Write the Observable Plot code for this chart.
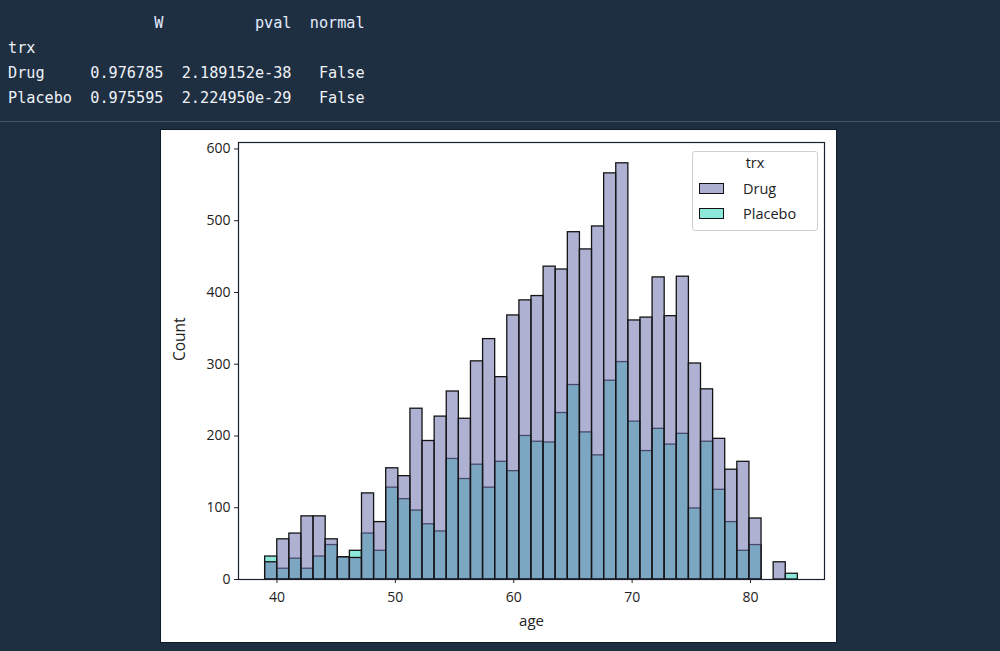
<!DOCTYPE html>
<html>
<head>
<meta charset="utf-8">
<script src="https://cdn.jsdelivr.net/npm/d3@7"></script>
<script src="https://cdn.jsdelivr.net/npm/@observablehq/plot@0.6"></script>
<style>
  html, body { margin: 0; padding: 0; background: #1f2f42; width: 1000px; height: 651px; overflow: hidden; }
  #table { position: absolute; left: 8px; top: 11px; margin: 0; font-family: "DejaVu Sans Mono", monospace; font-size: 15.2px; line-height: 25px; color: #eef2f7; white-space: pre; }
  #table .hdr { color: #e4ecff; }
  #sep { position: absolute; left: 0; top: 121px; width: 1000px; height: 1px; background: #44556a; }
  #panel { position: absolute; left: 161px; top: 130px; width: 675px; height: 512px; background: #fff; outline: 1px solid #0e1a28; }
  #legend { position: absolute; left: 531px; top: 21px; width: 124px; height: 78px; border: 1px solid #cfcfd6; border-radius: 3px; background: rgba(255,255,255,0.85); font-family: "Open Sans", sans-serif; font-size: 14.5px; color: #222; }
  #legend .title { position: absolute; left: 0; width: 100%; top: 1px; text-align: center; }
  #legend .item { position: absolute; left: 6px; height: 20px; display: flex; align-items: center; }
  #legend .sw { width: 23px; height: 9px; border: 1.4px solid #111; margin-right: 19px; }
</style>
</head>
<body>
<pre id="table"></pre>
<div id="sep"></div>
<div id="panel"></div>
<script>
// Normality test table
const tableHeader = ["", "W", "pval", "normal"];
const tableIndexName = "trx";
const tableRows = ["Drug", "Placebo"];
const tableW = ["0.976785", "0.975595"];
const tablePval = ["2.189152e-38", "2.224950e-29"];
const tableNormal = ["False", "False"];

// Histogram: common bins over age 39..84, 44 bins
const ageMin = 39, ageMax = 84, nBins = 44;
const drugCounts = [24, 56, 64, 88, 88, 56, 31, 30, 120, 80, 155, 144, 238, 193, 227, 262, 224, 304, 335, 282, 368, 389, 395, 436, 432, 484, 460, 492, 566, 580, 361, 365, 421, 367, 422, 301, 265, 196, 153, 164, 85, 0, 24, 0];
const placeboCounts = [32, 15, 29, 15, 32, 48, 31, 40, 64, 40, 128, 112, 96, 77, 67, 168, 140, 160, 128, 164, 151, 200, 192, 191, 232, 271, 205, 173, 277, 303, 220, 179, 210, 188, 203, 99, 192, 125, 80, 40, 48, 0, 0, 8];
const groups = ["Drug", "Placebo"];
const colors = { Drug: "rgba(112,116,176,0.56)", Placebo: "#8ce9da" };
const legendColors = { Drug: "#aeb0d2", Placebo: "#8ce9da" };
const xTicks = [40, 50, 60, 70, 80];
const yTicks = [0, 100, 200, 300, 400, 500, 600];

// Table text
const colW = [7, 10, 14, 8];
function pad(s, w, left) { s = String(s); while (s.length < w) s = left ? s + " " : " " + s; return s; }
const lines = [];
lines.push('<span class="hdr">' + pad(tableHeader[0], colW[0], true) + pad(tableHeader[1], colW[1]) + pad(tableHeader[2], colW[2]) + pad(tableHeader[3], colW[3]) + '</span>');
lines.push(tableIndexName);
tableRows.forEach((r, i) => {
  lines.push(pad(r, colW[0], true) + pad(tableW[i], colW[1]) + pad(tablePval[i], colW[2]) + pad(tableNormal[i], colW[3]));
});
document.getElementById("table").innerHTML = lines.join("\n");

// Build bin table
const bw = (ageMax - ageMin) / nBins;
const data = [];
for (let i = 0; i < nBins; i++) {
  const x1 = ageMin + i * bw, x2 = ageMin + (i + 1) * bw;
  if (placeboCounts[i] > 0) data.push({ trx: "Placebo", x1, x2, count: placeboCounts[i] });
}
for (let i = 0; i < nBins; i++) {
  const x1 = ageMin + i * bw, x2 = ageMin + (i + 1) * bw;
  if (drugCounts[i] > 0) data.push({ trx: "Drug", x1, x2, count: drugCounts[i] });
}
const span = ageMax - ageMin;

const chart = Plot.plot({
  width: 675,
  height: 512,
  marginLeft: 77,
  marginRight: 12,
  marginTop: 12,
  marginBottom: 63,
  style: { fontFamily: "Open Sans, sans-serif", fontSize: "12.5px", color: "#222", background: "#fff", overflow: "visible" },
  x: { domain: [ageMin - 0.05 * span, ageMax + 0.05 * span], label: null },
  y: { domain: [0, 580 * 1.05], label: null },
  marks: [
    Plot.rect(data.filter(d => d.trx === "Placebo"), { x1: "x1", x2: "x2", y1: 0, y2: "count", fill: colors.Placebo, stroke: "#141414", strokeWidth: 1.3 }),
    Plot.rect(data.filter(d => d.trx === "Drug"), { x1: "x1", x2: "x2", y1: 0, y2: "count", fill: colors.Drug, stroke: "#141414", strokeWidth: 1.3 }),
    Plot.frame({ stroke: "#1b2030", strokeWidth: 1.2 }),
    Plot.axisX({ ticks: xTicks, tickSize: 4, tickPadding: 9, fontSize: 14, label: null }),
    Plot.axisY({ ticks: yTicks, tickSize: 4, tickPadding: 4, fontSize: 14, label: null }),
    Plot.text(["age"], { frameAnchor: "bottom", dy: 46, fontSize: 15, fill: "#222" }),
    Plot.text(["Count"], { frameAnchor: "left", dx: -58, rotate: -90, fontSize: 15.5, fill: "#222" })
  ]
});
const panel = document.getElementById("panel");
panel.appendChild(chart);

// Legend
const leg = document.createElement("div");
leg.id = "legend";
let html = '<div class="title">' + tableIndexName + '</div>';
groups.forEach((g, i) => {
  html += '<div class="item" style="top:' + (26 + i * 25) + 'px"><div class="sw" style="background:' + legendColors[g] + '"></div><span>' + g + '</span></div>';
});
leg.innerHTML = html;
panel.appendChild(leg);
</script>
</body>
</html>
